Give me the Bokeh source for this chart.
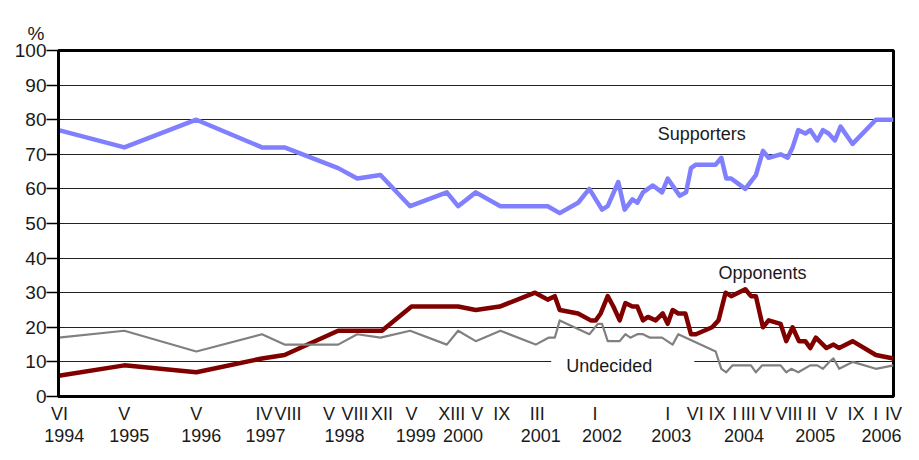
from bokeh.plotting import figure
from bokeh.models import LinearAxis, FixedTicker, Label, Range1d
from bokeh.embed import file_html
from bokeh.resources import INLINE

FONT = "Liberation Sans"
TXT = "#1a1a1a"

# ---- data (decimal year, percent) ----
sup_x = [1994.42, 1995.35, 1996.37, 1997.30, 1997.62, 1998.38, 1998.65, 1998.98, 1999.40, 1999.92,
         2000.08, 2000.33, 2000.68, 2001.35, 2001.52, 2001.78, 2001.94, 2002.12, 2002.20, 2002.35,
         2002.44, 2002.55, 2002.62, 2002.70, 2002.84, 2002.97, 2003.05, 2003.22, 2003.31, 2003.38,
         2003.45, 2003.73, 2003.81, 2003.88, 2003.95, 2004.15, 2004.30, 2004.40, 2004.48, 2004.65,
         2004.75, 2004.82, 2004.90, 2005.00, 2005.07, 2005.17, 2005.25, 2005.33, 2005.42, 2005.50,
         2005.67, 2006.00, 2006.25]
sup_y = [77, 72, 80, 72, 72, 66, 63, 64, 55, 59,
         55, 59, 55, 55, 53, 56, 60, 54, 55, 62,
         54, 57, 56, 59, 61, 59, 63, 58, 59, 66,
         67, 67, 69, 63, 63, 60, 64, 71, 69, 70,
         69, 72, 77, 76, 77, 74, 77, 76, 74, 78,
         73, 80, 80]

opp_x = [1994.42, 1995.35, 1996.37, 1997.30, 1997.62, 1998.38, 1999.00, 1999.42, 2000.08, 2000.33,
         2000.67, 2001.17, 2001.35, 2001.45, 2001.52, 2001.78, 2001.96, 2002.03, 2002.10, 2002.20,
         2002.28, 2002.37, 2002.45, 2002.55, 2002.62, 2002.70, 2002.77, 2002.88, 2002.98, 2003.05,
         2003.12, 2003.20, 2003.30, 2003.38, 2003.45, 2003.68, 2003.77, 2003.87, 2003.95, 2004.15,
         2004.23, 2004.30, 2004.40, 2004.48, 2004.65, 2004.73, 2004.82, 2004.91, 2005.00, 2005.07,
         2005.15, 2005.30, 2005.40, 2005.48, 2005.67, 2006.00, 2006.25]
opp_y = [6, 9, 7, 11, 12, 19, 19, 26, 26, 25,
         26, 30, 28, 29, 25, 24, 22, 22, 24, 29,
         26, 22, 27, 26, 26, 22, 23, 22, 24, 21,
         25, 24, 24, 18, 18, 20, 22, 30, 29, 31,
         29, 29, 20, 22, 21, 16, 20, 16, 16, 14,
         17, 14, 15, 14, 16, 12, 11]

und_x = [1994.42, 1995.35, 1996.37, 1997.30, 1997.62, 1998.38, 1998.65, 1998.98, 1999.40, 1999.92,
         2000.08, 2000.33, 2000.68, 2001.18, 2001.36, 2001.45, 2001.52, 2001.94, 2002.06, 2002.12,
         2002.20, 2002.37, 2002.45, 2002.52, 2002.62, 2002.70, 2002.80, 2002.97, 2003.12, 2003.20,
         2003.73, 2003.81, 2003.88, 2003.97, 2004.23, 2004.30, 2004.39, 2004.65, 2004.73, 2004.80,
         2004.90, 2005.07, 2005.17, 2005.25, 2005.34, 2005.40, 2005.48, 2005.67, 2006.00, 2006.25]
und_y = [17, 19, 13, 18, 15, 15, 18, 17, 19, 15,
         19, 16, 19, 15, 17, 17, 22, 18, 21, 21,
         16, 16, 18, 17, 18, 18, 17, 17, 15, 18,
         13, 8, 7, 9, 9, 7, 9, 9, 7, 8,
         7, 9, 9, 8, 10, 11, 8, 10, 8, 9]

# ---- tick labels ----
month_ticks = [1994.43, 1995.35, 1996.37, 1997.33, 1997.67, 1998.25, 1998.62, 1999.00, 1999.42, 1999.99,
               2000.35, 2000.70, 2001.20, 2002.02, 2003.05, 2003.44, 2003.75, 2004.00, 2004.19, 2004.44,
               2004.77, 2005.09, 2005.37, 2005.72, 2006.00, 2006.25]
month_labels = ["VI", "V", "V", "IV", "VIII", "V", "VIII", "XII", "V", "XIII",
                "V", "IX", "III", "I", "I", "VI", "IX", "I", "III", "V",
                "VIII", "II", "V", "IX", "I", "IV"]
year_ticks = [1994.50, 1995.42, 1996.44, 1997.35, 1998.47, 1999.48, 2000.15, 2001.25, 2002.12,
              2003.10, 2004.13, 2005.14, 2006.08]
year_labels = ["1994", "1995", "1996", "1997", "1998", "1999", "2000", "2001", "2002",
               "2003", "2004", "2005", "2006"]
y_ticks = [0, 10, 20, 30, 40, 50, 60, 70, 80, 90, 100]

p = figure(width=903, height=444, output_backend="svg", toolbar_location=None,
           x_range=Range1d(1994.417, 2006.25), y_range=Range1d(0, 100),
           min_border_left=58, min_border_right=10, min_border_top=50, min_border_bottom=10)
p.background_fill_color = "white"
p.border_fill_color = "white"
p.outline_line_color = "black"
p.outline_line_width = 3

# "%" unit label as a left-aligned title
p.title.text = "%"
p.title.align = "left"
p.title.offset = -31
p.title.standoff = 14
p.title.text_font = FONT
p.title.text_font_size = "19px"
p.title.text_font_style = "normal"
p.title.text_color = TXT

p.xgrid.visible = False
p.ygrid.ticker = FixedTicker(ticks=y_ticks)
p.ygrid.grid_line_color = "#222222"
p.ygrid.grid_line_width = 1

# y axis
ya = p.yaxis[0]
ya.ticker = FixedTicker(ticks=y_ticks)
ya.axis_line_width = 3
ya.axis_line_color = "black"
ya.major_tick_out = 12
ya.major_tick_in = 0
ya.major_tick_line_width = 1.5
ya.minor_tick_line_color = None
ya.major_label_standoff = 0
ya.major_label_text_font = FONT
ya.major_label_text_font_size = "19px"
ya.major_label_text_color = TXT

# x axis (months)
xa = p.xaxis[0]
xa.ticker = FixedTicker(ticks=month_ticks)
xa.major_label_overrides = dict(zip(month_ticks, month_labels))
xa.axis_line_width = 3
xa.axis_line_color = "black"
xa.major_tick_line_color = None
xa.minor_tick_line_color = None
xa.major_tick_out = 0
xa.major_tick_in = 0
xa.major_label_standoff = 7
xa.major_label_text_font = FONT
xa.major_label_text_font_size = "18px"
xa.major_label_text_color = TXT

# second x axis (years)
yr = LinearAxis(ticker=FixedTicker(ticks=year_ticks),
                major_label_overrides=dict(zip(year_ticks, year_labels)))
yr.axis_line_color = None
yr.major_tick_line_color = None
yr.minor_tick_line_color = None
yr.major_tick_out = 0
yr.major_tick_in = 0
yr.major_label_standoff = 2
yr.major_label_text_font = FONT
yr.major_label_text_font_size = "18px"
yr.major_label_text_color = TXT
p.add_layout(yr, "below")

# series
p.line(sup_x, sup_y, line_color="#8080FF", line_width=4.5, line_join="round")
p.line(opp_x, opp_y, line_color="#800000", line_width=4.5, line_join="round")
p.line(und_x, und_y, line_color="#808080", line_width=2.2, line_join="round")

# labels
common = dict(text_font=FONT, text_font_size="18px", text_color=TXT, text_baseline="middle")
p.add_layout(Label(x=2002.91, y=75.8, text="Supporters", text_align="left", **common))
p.add_layout(Label(x=2003.77, y=35.8, text="Opponents", text_align="left", **common))
p.add_layout(Label(x=2001.40, y=8.7, text="Undecided", text_align="left",
                   background_fill_color="white",
                   padding=dict(left=15, right=42, top=1, bottom=1), **common))

open("out.html", "w").write(file_html(p, INLINE))
